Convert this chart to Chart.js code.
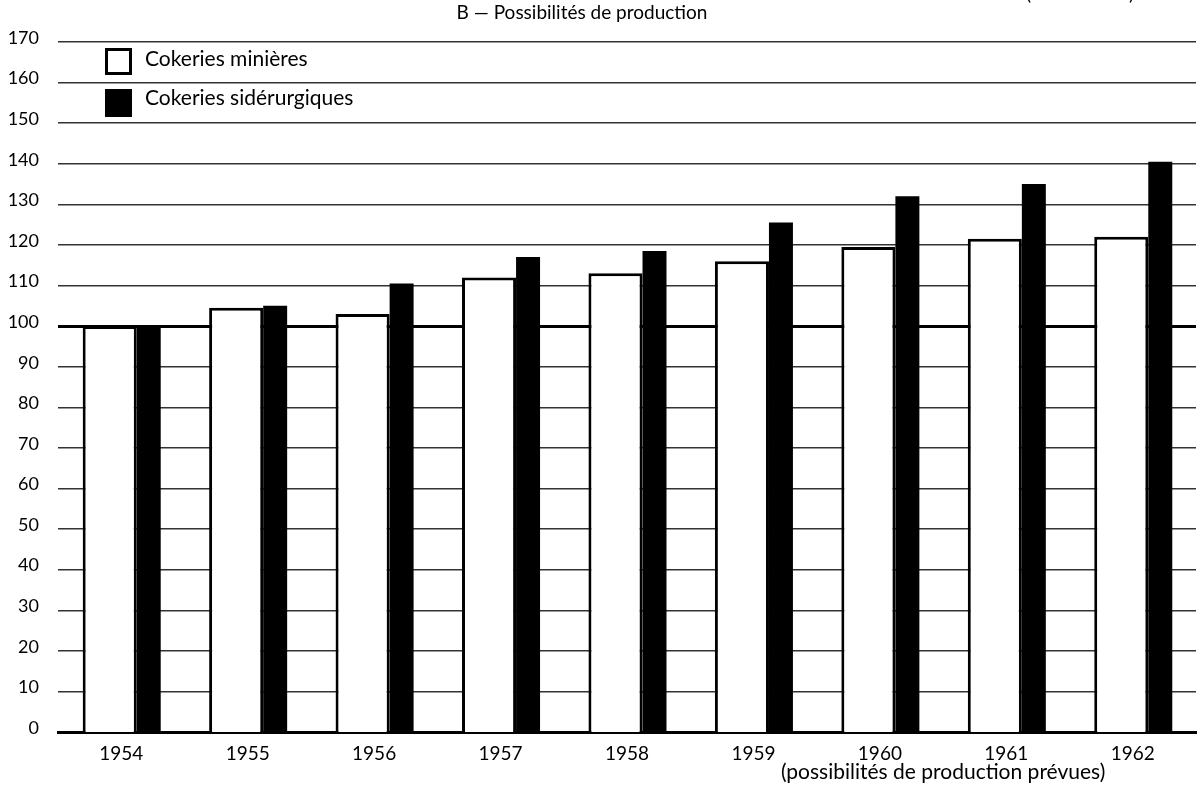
<!DOCTYPE html>
<html>
<head>
<meta charset="utf-8">
<title>B — Possibilités de production</title>
<script src="https://cdn.jsdelivr.net/npm/chart.js@4.4.1/dist/chart.umd.min.js"></script>
<style>
  html, body { margin: 0; padding: 0; background: #fff; }
  #wrap { width: 1201px; height: 791px; position: relative; }
</style>
</head>
<body>
<div id="wrap"><canvas id="chart" width="1201" height="791"></canvas></div>
<script>
// Indices de capacité de production des cokeries (1954 = 100)
var years = ['1954', '1955', '1956', '1957', '1958', '1959', '1960', '1961', '1962'];
var minieres = [100, 104.5, 103, 112, 113, 116, 119.5, 121.5, 122];
var siderurgiques = [100, 105, 110.5, 117, 118.5, 125.5, 132, 135, 140.5];
var yTicks = [0, 10, 20, 30, 40, 50, 60, 70, 80, 90, 100, 110, 120, 130, 140, 150, 160, 170];

var titleText = 'B \u2014 Possibilités de production';
var noteText = '(possibilités de production prévues)';
var cornerText = '(1954 = 100)';

var font = 'Lato, "Open Sans", sans-serif';
var ink = '#000';

// titre, légende et note sous l'axe
var extras = {
  id: 'extras',
  afterDraw: function(chart) {
    var ctx = chart.ctx;
    var x = chart.scales.x;
    var ds = chart.data.datasets;
    ctx.save();
    ctx.fillStyle = ink;
    ctx.textBaseline = 'alphabetic';

    ctx.font = '19px ' + font;
    ctx.textAlign = 'center';
    ctx.fillText(titleText, 582, 19);
    ctx.fillText(cornerText, 1080, 0);

    // légende
    ctx.textAlign = 'left';
    ctx.font = '21px ' + font;
    ctx.fillStyle = '#fff';
    ctx.fillRect(105, 48, 27, 27);
    ctx.lineWidth = 3;
    ctx.strokeStyle = ink;
    ctx.strokeRect(106.5, 49.5, 24, 24);
    ctx.fillStyle = ink;
    ctx.fillText(ds[0].label, 145, 66);
    ctx.fillStyle = ds[1].backgroundColor;
    ctx.fillRect(105, 89, 27, 28);
    ctx.fillStyle = ink;
    ctx.fillText(ds[1].label, 145, 105);

    // note sous 1960-1961
    var mid = (x.getPixelForValue(6) + x.getPixelForValue(7)) / 2;
    ctx.textAlign = 'center';
    ctx.font = '21px ' + font;
    ctx.fillText(noteText, mid, 779);
    ctx.restore();
  }
};

new Chart(document.getElementById('chart'), {
  type: 'bar',
  data: {
    labels: years,
    datasets: [{
      label: 'Cokeries minières',
      data: minieres,
      backgroundColor: '#fff',
      borderColor: ink,
      borderWidth: 3,
      borderSkipped: 'start',
      // barres de largeur différente, accolées
      categoryPercentage: 0.364,
      barPercentage: 2.35
    }, {
      label: 'Cokeries sidérurgiques',
      data: siderurgiques,
      backgroundColor: '#000',
      borderWidth: 0,
      categoryPercentage: 0.87,
      barPercentage: 0.436
    }]
  },
  options: {
    responsive: false,
    animation: false,
    layout: { padding: { top: 42, right: 5, bottom: 0, left: 0 } },
    plugins: {
      legend: { display: false },
      title: { display: false },
      tooltip: { enabled: false }
    },
    scales: {
      x: {
        offset: true,
        grid: { display: false, drawTicks: false },
        border: { display: true, color: ink, width: 3 },
        ticks: {
          color: ink,
          font: { family: font, size: 19 },
          padding: 10,
          maxRotation: 0,
          autoSkip: false
        },
        afterFit: function(scale) { scale.height = 59; }
      },
      y: {
        min: 0,
        max: 170,
        afterBuildTicks: function(scale) {
          scale.ticks = yTicks.map(function(v) { return { value: v }; });
        },
        grid: {
          drawTicks: false,
          color: function(c) { return c.tick.value === 100 ? '#000' : '#333'; },
          lineWidth: function(c) {
            if (c.tick.value === 100) return 3;
            if (c.tick.value === 0) return 0;
            return 1.4;
          }
        },
        border: { display: false },
        ticks: {
          color: ink,
          font: { family: font, size: 18 },
          padding: 19,
          labelOffset: -4
        },
        afterFit: function(scale) { scale.width = 58; }
      }
    }
  },
  plugins: [extras]
});
</script>
</body>
</html>
